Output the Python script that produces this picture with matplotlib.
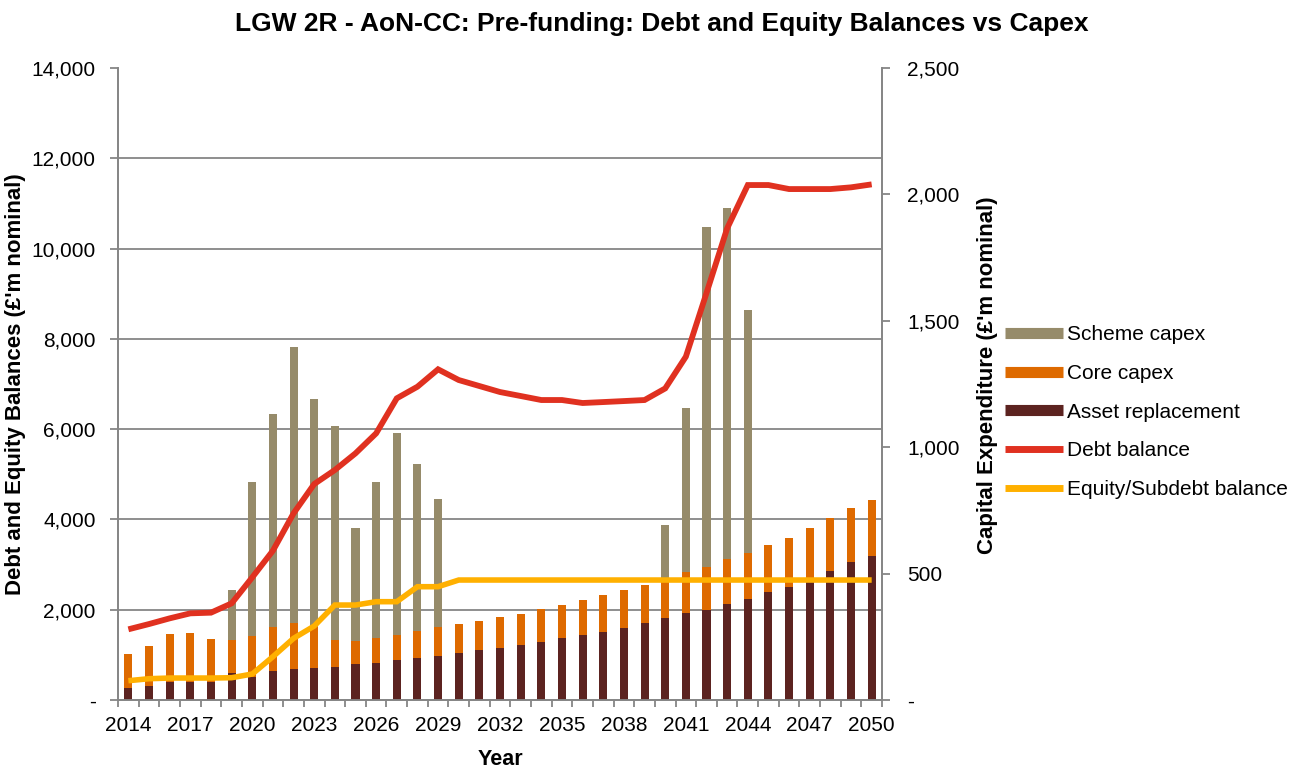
import numpy as np
import matplotlib.pyplot as plt
from matplotlib.lines import Line2D
from matplotlib.ticker import FuncFormatter

plt.rcParams['font.family'] = ['Liberation Sans', 'DejaVu Sans']

years = list(range(2014, 2051))

# capex (right axis, £'m)
asset_repl = [47, 55, 70, 73, 72, 105, 92, 116, 124, 127, 132, 141, 148, 157, 167, 175, 187, 198, 207,
              219, 231, 245, 258, 270, 286, 305, 323, 343, 357, 381, 401, 429, 448, 478, 512, 545, 568]
core_capex = [135, 159, 191, 194, 168, 133, 160, 171, 179, 162, 107, 92, 99, 101, 107, 112, 112, 116, 121,
              123, 128, 132, 138, 144, 148, 151, 153, 165, 169, 175, 180, 185, 194, 201, 208, 215, 223]
scheme_capex = [0, 0, 0, 0, 0, 197, 612, 844, 1092, 900, 845, 446, 614, 797, 660, 509, 0, 0, 0,
                0, 0, 0, 0, 0, 0, 0, 218, 648, 1345, 1392, 960, 0, 0, 0, 0, 0, 0]

# balances (left axis, £'m)
debt = [1566, 1683, 1809, 1920, 1935, 2141, 2717, 3308, 4135, 4784, 5095, 5464, 5907, 6683, 6940, 7325,
        7088, 6955, 6822, 6734, 6645, 6645, 6579, 6600, 6622, 6645, 6902, 7605, 9015, 10447, 11407,
        11407, 11318, 11318, 11318, 11356, 11422]
equity = [428, 472, 487, 487, 487, 494, 576, 960, 1366, 1639, 2104, 2104, 2178, 2178, 2510, 2510] + [2658] * 21

c_scheme = '#968B6A'
c_core = '#DE6A00'
c_asset = '#5C2320'
c_debt = '#E03120'
c_equity = '#FFB000'
c_axis = '#868686'

fig = plt.figure(figsize=(13.03, 7.69), dpi=100)
ax = fig.add_axes([0.0906, 0.0897, 0.5863, 0.8219])  # bars, right scale
ax2 = ax.twinx()  # lines, left scale

x = np.arange(len(years))
bw = 0.39
a = np.array(asset_repl)
c = np.array(core_capex)
s = np.array(scheme_capex)
ax.bar(x, a, bw, color=c_asset, zorder=3)
ax.bar(x, c, bw, bottom=a, color=c_core, zorder=3)
ax.bar(x, s, bw, bottom=a + c, color=c_scheme, zorder=3)

ax2.plot(x, debt, color=c_debt, lw=4.2, solid_capstyle='butt', solid_joinstyle='miter')
ax2.plot(x, equity, color=c_equity, lw=4.0, solid_capstyle='butt', solid_joinstyle='miter')

ax.set_xlim(-0.5, len(years) - 0.5)
ax.set_ylim(0, 2500)
ax2.set_ylim(0, 14000)

# axis sides: bars on right, balances on left
ax.yaxis.tick_right()
ax.yaxis.set_label_position('right')
ax2.yaxis.tick_left()
ax2.yaxis.set_label_position('left')

def fmt(v, pos):
    return '-' if v == 0 else f'{v:,.0f}'

ax.set_yticks(np.arange(0, 2501, 500))
ax.yaxis.set_major_formatter(FuncFormatter(fmt))
ax2.set_yticks(np.arange(0, 14001, 2000))
ax2.yaxis.set_major_formatter(FuncFormatter(fmt))

# gridlines behind bars, aligned to left-axis ticks
ax.set_yticks(np.linspace(0, 2500, 8), minor=True)
ax.grid(which='minor', axis='y', color=c_axis, lw=1.3, zorder=0)
ax.tick_params(axis='y', which='minor', length=0)

# x ticks: marks at category boundaries, labels every 3rd year
ax.set_xticks(np.arange(-0.5, len(years), 1))
ax.set_xticklabels([])
ax.set_xticks(x[::3], minor=True)
ax.set_xticklabels([str(y) for y in years[::3]], minor=True)
ax.tick_params(axis='x', which='major', length=5, width=1.3, color=c_axis)
ax.tick_params(axis='x', which='minor', length=0, pad=11.5, labelsize=15)

ax.tick_params(axis='y', which='major', length=6, width=1.3, color=c_axis, pad=12, labelsize=15)
ax2.tick_params(axis='y', which='major', length=6, width=1.3, color=c_axis, pad=10, labelsize=15)

for a_ in (ax, ax2):
    a_.spines['top'].set_visible(False)
    for sp in ('left', 'right', 'bottom'):
        a_.spines[sp].set_color(c_axis)
        a_.spines[sp].set_linewidth(1.3)

ax2.set_ylabel("Debt and Equity Balances (£'m nominal)", fontsize=16, fontweight='bold', labelpad=4)
ax.set_ylabel("Capital Expenditure (£'m nominal)", fontsize=16, fontweight='bold')
ax.yaxis.set_label_coords(1.124, 0.514)
ax.set_xlabel('Year', fontsize=15.5, fontweight='bold', labelpad=10)

fig.suptitle('LGW 2R - AoN-CC: Pre-funding: Debt and Equity Balances vs Capex',
             fontsize=19, fontweight='bold', x=0.508, y=0.985)

handles = [Line2D([], [], color=c_scheme, lw=8, solid_capstyle='butt'),
           Line2D([], [], color=c_core, lw=8, solid_capstyle='butt'),
           Line2D([], [], color=c_asset, lw=8, solid_capstyle='butt'),
           Line2D([], [], color=c_debt, lw=5, solid_capstyle='butt'),
           Line2D([], [], color=c_equity, lw=5, solid_capstyle='butt')]
labels = ['Scheme capex', 'Core capex', 'Asset replacement', 'Debt balance', 'Equity/Subdebt balance']
fig.legend(handles, labels, loc='center left', bbox_to_anchor=(0.765, 0.464), frameon=False,
           fontsize=15, handlelength=2.8, handletextpad=0.15, labelspacing=0.95, borderaxespad=0)

fig.savefig('out.png', dpi=100)
